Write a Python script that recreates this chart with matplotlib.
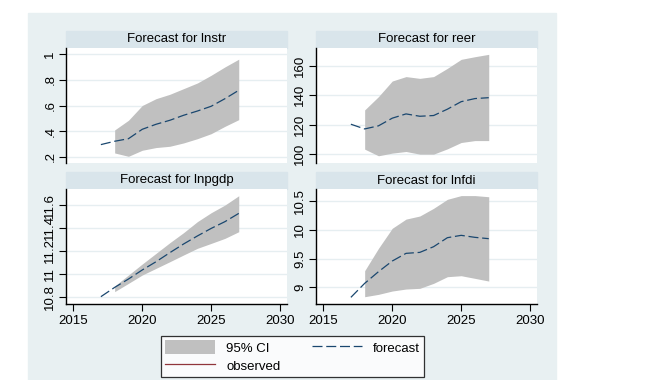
import numpy as np
import matplotlib.pyplot as plt
from matplotlib.patches import Rectangle, Patch
from matplotlib.lines import Line2D

plt.rcParams['font.family'] = ['Liberation Sans', 'DejaVu Sans']

years = np.arange(2017, 2028)
ci_years = np.arange(2018, 2028)

# lnstr
lnstr_fc = [0.296, 0.322, 0.342, 0.415, 0.454, 0.485, 0.524, 0.557, 0.594, 0.653, 0.718]
lnstr_hi = [0.41, 0.485, 0.60, 0.653, 0.687, 0.731, 0.775, 0.835, 0.90, 0.96]
lnstr_lo = [0.231, 0.205, 0.252, 0.273, 0.283, 0.309, 0.342, 0.381, 0.438, 0.49]

# reer
reer_fc = [120.3, 117.1, 119.2, 124.4, 127.3, 125.7, 126.2, 130.5, 135.6, 137.7, 138.3]
reer_hi = [130.0, 139.0, 149.6, 152.6, 151.4, 152.6, 158.2, 164.3, 166.1, 167.7]
reer_lo = [103.4, 98.9, 100.7, 101.8, 100.0, 100.0, 103.6, 107.9, 109.2, 109.2]

# lnpgdp
lnpgdp_fc = [10.80, 10.881, 10.954, 11.033, 11.105, 11.184, 11.26, 11.33, 11.396, 11.455, 11.527]
lnpgdp_hi = [10.893, 10.989, 11.085, 11.178, 11.271, 11.359, 11.455, 11.533, 11.60, 11.681]
lnpgdp_lo = [10.844, 10.916, 10.989, 11.047, 11.105, 11.164, 11.222, 11.265, 11.309, 11.367]

# lnfdi
lnfdi_fc = [8.826, 9.07, 9.273, 9.459, 9.593, 9.61, 9.709, 9.866, 9.907, 9.872, 9.849]
lnfdi_hi = [9.29, 9.68, 10.03, 10.19, 10.244, 10.378, 10.535, 10.60, 10.60, 10.58]
lnfdi_lo = [8.837, 8.878, 8.936, 8.971, 8.983, 9.07, 9.186, 9.203, 9.157, 9.11]

x_ticks = [2015, 2020, 2025, 2030]

panels = [
    ("Forecast for lnstr", lnstr_fc, lnstr_hi, lnstr_lo,
     [0.2, 0.4, 0.6, 0.8, 1.0], [".2", ".4", ".6", ".8", "1"], (0.153, 1.047)),
    ("Forecast for reer", reer_fc, reer_hi, reer_lo,
     [100, 120, 140, 160], ["100", "120", "140", "160"], (94, 172)),
    ("Forecast for lnpgdp", lnpgdp_fc, lnpgdp_hi, lnpgdp_lo,
     [10.8, 11.0, 11.2, 11.4, 11.6], ["10.8", "11", "11.2", "11.4", "11.6"], (10.736, 11.74)),
    ("Forecast for lnfdi", lnfdi_fc, lnfdi_hi, lnfdi_lo,
     [9, 9.5, 10, 10.5], ["9", "9.5", "10", "10.5"], (8.71, 10.715)),
]

W, H = 655, 380
bg = '#E8F0F2'
strip = '#D9E5EB'
navy = '#1A476F'
maroon = '#90353B'
ci_col = '#C0C0C0'
fs = 9.5
dash = (8, 3)

fig = plt.figure(figsize=(W / 100, H / 100), dpi=100)
fig.patch.set_facecolor('white')
fig.patches.append(Rectangle((28 / W, 0), (556 - 28) / W, (H - 13) / H,
                             transform=fig.transFigure, color=bg, zorder=-10))

# pixel boxes: (left, top) of plot region
boxes = [(66, 48), (316, 48), (66, 189), (316, 189)]
pw, ph = 221, 115

for i, ((title, fc, hi, lo, yt, ytl, ylim), (px, py)) in enumerate(zip(panels, boxes)):
    ax = fig.add_axes([px / W, (H - py - ph) / H, pw / W, ph / H])
    # title strip
    fig.patches.append(Rectangle((px / W, (H - py) / H), pw / W, 17 / H,
                                 transform=fig.transFigure, color=strip, zorder=-5))
    fig.text((px + pw / 2) / W, (H - py + 8.5) / H, title, ha='center', va='center',
             fontsize=fs)
    ax.fill_between(ci_years, lo, hi, color=ci_col, linewidth=0, zorder=1)
    ax.plot(years, fc, color=navy, linewidth=0.9, dashes=dash, zorder=3)
    ax.plot(years[:1], fc[:1], color=maroon, linewidth=0.9, zorder=2)
    ax.set_xlim(2014.47, 2030.5)
    ax.set_ylim(*ylim)
    ax.set_yticks(yt)
    ax.set_yticklabels(ytl, rotation=90, va='center', fontsize=fs)
    ax.set_xticks(x_ticks)
    ax.grid(axis='y', color='#E6EEF1', linewidth=1, zorder=0)
    ax.set_axisbelow(True)
    for s in ['top', 'right']:
        ax.spines[s].set_visible(False)
    ax.spines['left'].set_linewidth(1.0)
    ax.tick_params(axis='y', length=5, width=0.8, pad=2)
    if i < 2:
        ax.spines['bottom'].set_visible(False)
        ax.tick_params(axis='x', length=0, labelbottom=False)
    else:
        ax.spines['bottom'].set_linewidth(1.0)
        ax.tick_params(axis='x', length=5, width=0.8, labelsize=fs, pad=3)

handles = [Patch(facecolor=ci_col, edgecolor='none', label='95% CI'),
           Line2D([], [], color=maroon, linewidth=0.9, label='observed'),
           Line2D([], [], color=navy, linewidth=0.9, dashes=dash, label='forecast')]
leg = fig.legend(handles=handles, ncol=2, loc='center',
                 bbox_to_anchor=((166 + 419) / 2 / W, (H - (334 + 379) / 2) / H),
                 frameon=True, fancybox=False, fontsize=fs, handlelength=3.8,
                 handleheight=1.3, columnspacing=2.4, labelspacing=0.3,
                 borderpad=0.3, handletextpad=0.8)
leg.get_frame().set_edgecolor('black')
leg.get_frame().set_linewidth(0.9)

fig.savefig('out.png', dpi=100, facecolor='white')
